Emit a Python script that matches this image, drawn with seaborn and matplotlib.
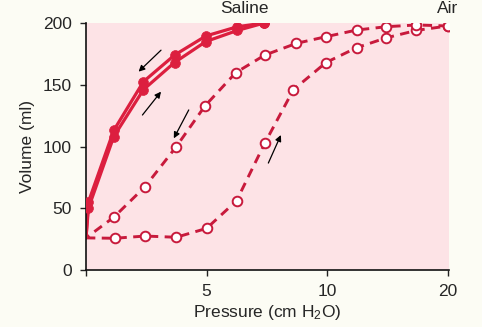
import numpy as np
import pandas as pd
import matplotlib
matplotlib.use("Agg")
import matplotlib.pyplot as plt
import seaborn as sns

# ---- data (pressure in cm H2O, volume in ml) ----
sal_inf_p = [0, 0.1, 1.15, 2.38, 3.67, 4.97, 6.28, 7.39]
sal_inf_v = [26, 50, 108, 146, 168, 185, 194, 200]
sal_def_p = [7.39, 6.28, 4.97, 3.67, 2.38, 1.15, 0.1, 0]
sal_def_v = [200, 197, 189.5, 174, 152.5, 113, 55, 26]

air_inf_p = [0, 1.19, 2.45, 3.74, 5.0, 6.24, 7.41, 8.6, 9.95, 12.44, 14.9, 17.4, 20]
air_inf_v = [26, 25.7, 27.5, 26.5, 33.7, 56, 102.6, 146, 168, 180, 188, 194, 197.6]
air_def_p = [20, 17.4, 14.9, 12.44, 9.97, 8.72, 7.41, 6.21, 4.93, 3.74, 2.45, 1.15, 0]
air_def_v = [197.6, 198.4, 197, 194.3, 189, 183.5, 174, 159.8, 132.8, 99.8, 67.5, 42.7, 26]

x_ticks = [0, 5, 10, 20]
x_ticklabels = ["", "5", "10", "20"]
y_ticks = [0, 50, 100, 150, 200]

# arrows: (from_p, from_v, to_p, to_v)
arrows = [
    (3.11, 178, 2.18, 160.6),
    (2.34, 125.5, 3.11, 144.4),
    (4.26, 129.6, 3.64, 106.6),
    (7.56, 86.6, 8.08, 109.3),
]

RED = "#dc1f3f"
RED_D = "#c81a3c"
PINK = "#fde3e6"
CREAM = "#fcfcf4"
FS = 12.5

sns.set_theme(style="white")
plt.rcParams["font.family"] = ["Liberation Sans", "DejaVu Sans"]
plt.rcParams["mathtext.fontset"] = "custom"
plt.rcParams["mathtext.rm"] = "Liberation Sans"
plt.rcParams["mathtext.it"] = "Liberation Sans"

fig = plt.figure(figsize=(4.82, 3.27), dpi=100, facecolor=CREAM)
ax = fig.add_axes([86 / 482, 1 - 270 / 327, (449 - 86) / 482, (270 - 23) / 327])
ax.set_facecolor(PINK)


def fwd(x):
    x = np.asarray(x, dtype=float)
    return np.where(x <= 10, x, 10 + (x - 10) / 2)


def inv(y):
    y = np.asarray(y, dtype=float)
    return np.where(y <= 10, y, 10 + (y - 10) * 2)


ax.set_xscale("function", functions=(fwd, inv))

dash = (0, (3.2, 2.2))
for p, v in [(air_inf_p, air_inf_v), (air_def_p, air_def_v)]:
    df = pd.DataFrame({"p": p, "v": v})
    sns.lineplot(data=df, x="p", y="v", sort=False, estimator=None, ax=ax,
                 color=RED_D, lw=2.1, linestyle=dash)
    sns.scatterplot(data=df.iloc[1:] if p[0] == 0 else df.iloc[:-1], x="p", y="v", ax=ax,
                    s=48, facecolor="white", edgecolor=RED_D, linewidth=1.4, zorder=5)

for p, v in [(sal_inf_p, sal_inf_v), (sal_def_p, sal_def_v)]:
    df = pd.DataFrame({"p": p, "v": v})
    sns.lineplot(data=df, x="p", y="v", sort=False, estimator=None, ax=ax,
                 color=RED, lw=2.3)
    mk = df[df["p"] > 0]
    sns.scatterplot(data=mk, x="p", y="v", ax=ax, s=50, color=RED,
                    edgecolor=RED, linewidth=0.5, zorder=5)

for x0, y0, x1, y1 in arrows:
    ax.annotate("", xy=(x1, y1), xytext=(x0, y0),
                arrowprops=dict(arrowstyle="-|>", color="black", lw=0.9,
                                mutation_scale=9, shrinkA=0, shrinkB=0))

ax.set_xlim(0, 20.1)
ax.set_ylim(0, 200)
ax.set_xticks(x_ticks)
ax.set_xticklabels(x_ticklabels)
ax.set_yticks(y_ticks)
ax.minorticks_off()
ax.tick_params(axis="both", direction="out", length=4, width=1, color="#222222",
               labelsize=FS, pad=6, bottom=True, left=True)
for s in ["top", "right"]:
    ax.spines[s].set_visible(False)
for s in ["left", "bottom"]:
    ax.spines[s].set_color("#111111")
    ax.spines[s].set_linewidth(1.2)

ax.set_xlabel("Pressure (cm H$_2$O)", fontsize=FS, labelpad=3)
ax.set_ylabel("Volume (ml)", fontsize=FS, labelpad=6)

ax.text(6.55, 212, "Saline", ha="center", va="center", fontsize=FS, clip_on=False)
ax.text(20.0, 212, "Air", ha="center", va="center", fontsize=FS, clip_on=False)

fig.savefig("out.png", dpi=100, facecolor=CREAM)
